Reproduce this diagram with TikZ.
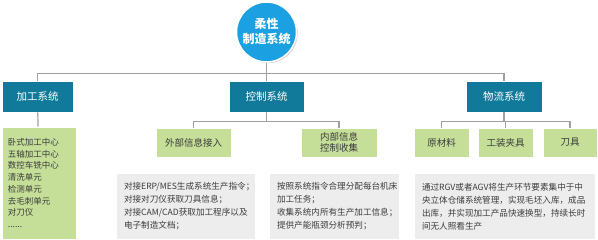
\documentclass[tikz,border=0pt]{standalone}
\usepackage{fontspec}
\setmainfont{Noto Sans CJK SC}
\usepackage{tikz}
\usetikzlibrary{shadows}
\definecolor{rootblue}{RGB}{27,161,226}
\definecolor{teal}{RGB}{17,122,154}
\definecolor{leafgreen}{RGB}{197,222,152}
\definecolor{notegray}{RGB}{237,237,237}
\definecolor{linegray}{RGB}{160,160,160}
\definecolor{darktext}{RGB}{60,60,60}

\begin{document}
\begin{tikzpicture}[x=1pt, y=-1pt,
    link/.style={draw=linegray, line width=1.2pt},
    sysbox/.style={rectangle, fill=teal, draw=white, line width=0.8pt, text=white, minimum height=31pt, inner sep=0pt, font=\fontsize{10.5}{12}\selectfont},
    leafbox/.style={rectangle, fill=leafgreen, draw=white, line width=0.8pt, text=darktext, minimum height=29pt, inner sep=0pt, align=center, font=\fontsize{9.5}{11.5}\selectfont},
    notebox/.style={rectangle, fill=notegray, text=darktext, minimum height=65pt, inner sep=7pt, align=left, font=\fontsize{8.6}{13}\selectfont}]
    \useasboundingbox (0,0) rectangle (598,240);

    % root
    \node[circle, fill=rootblue, draw=white, line width=1.5pt, minimum size=60pt, inner sep=0pt,
          drop shadow={opacity=0.35, shadow xshift=1.2pt, shadow yshift=-1.2pt},
          text=white, align=center, font=\fontsize{12}{15}\selectfont\bfseries] (root) at (266.5,32) {柔性\\制造系统};

    % level 1
    \node[sysbox, minimum width=71pt] (jiagong) at (37.5,96.5) {加工系统};
    \node[sysbox, minimum width=75pt] (kongzhi) at (266.5,96.5) {控制系统};
    \node[sysbox, minimum width=76pt] (wuliu) at (504,96.5) {物流系统};

    % level 2
    \node[leafbox, minimum width=74pt, minimum height=112pt, align=left, text width=62pt,
          font=\fontsize{8.5}{11.7}\selectfont] (list) at (39,183)
          {卧式加工中心\\五轴加工中心\\数控车铣中心\\清洗单元\\检测单元\\去毛刺单元\\对刀仪\\......};
    \node[leafbox, minimum width=75pt] (waibu) at (193.5,142.5) {外部信息接入};
    \node[leafbox, minimum width=76pt] (neibu) at (339,142.5) {内部信息\\控制收集};
    \node[leafbox, minimum width=55pt] (yuancailiao) at (441.5,142.5) {原材料};
    \node[leafbox, minimum width=55pt] (gongzhuang) at (505.5,142.5) {工装夹具};
    \node[leafbox, minimum width=54pt] (daoju) at (570,142.5) {刀具};

    % notes
    \node[notebox, minimum width=138pt, text width=124pt] (note1) at (186,206.5)
          {对接ERP/MES生成系统生产指令；\\对接对刀仪获取刀具信息；\\对接CAM/CAD获取加工程序以及\\电子制造文档；};
    \node[notebox, minimum width=129pt, text width=115pt] (note2) at (334.5,206.5)
          {按照系统指令合理分配每台机床\\加工任务；\\收集系统内所有生产加工信息；\\提供产能瓶颈分析预判；};
    \node[notebox, minimum width=180pt, text width=166pt] (note3) at (505,206.5)
          {通过RGV或者AGV将生产环节要素集中于中\\央立体仓储系统管理，实现毛坯入库，成品\\出库，并实现加工产品快速换型，持续长时\\间无人照看生产};

    % connectors
    \draw[link] (jiagong.north) -- ++(0,-7) -| (wuliu.north);
    \draw[link] (root) -- (kongzhi);
    \draw[link] (jiagong) -- (list);
    \draw[link] (waibu.north) -- ++(0,-6) coordinate (kbus) -| (neibu.north);
    \draw[link] (kongzhi.south) -- (kongzhi.south |- kbus);
    \draw[link] (yuancailiao.north) -- ++(0,-6) coordinate (wbus) -| (daoju.north);
    \draw[link] (wuliu.south) -- (wuliu.south |- wbus);
    \draw[link] (gongzhuang.north) -- (gongzhuang.north |- wbus);
\end{tikzpicture}
\end{document}
